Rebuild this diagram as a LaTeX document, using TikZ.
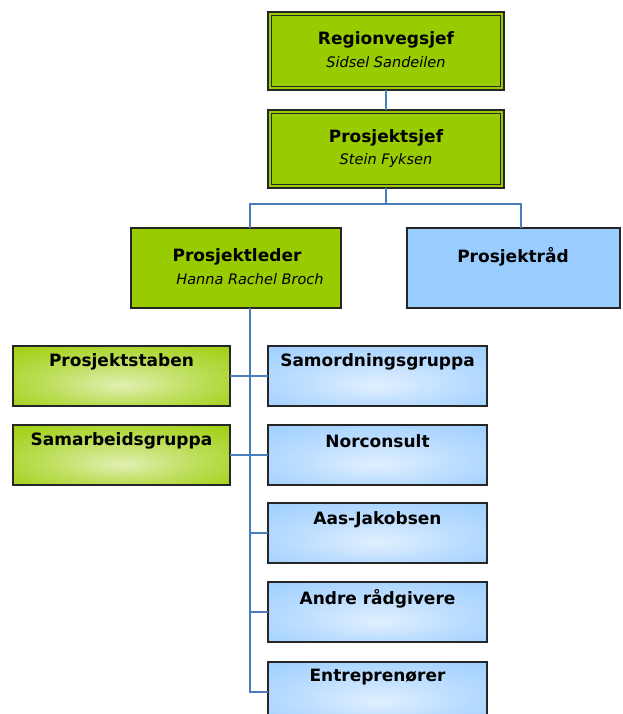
\documentclass[tikz,border=0pt]{standalone}
\usepackage{fontspec}
\setmainfont{DejaVu Sans}
\definecolor{gmain}{HTML}{99CC00}
\definecolor{bmain}{HTML}{99CCFF}
\definecolor{linec}{HTML}{4A7EBB}
\colorlet{gmid}{gmain!65!white}
\colorlet{glight}{gmain!30!white}
\colorlet{bmid}{bmain!65!white}
\colorlet{blight}{bmain!30!white}
\pgfdeclareradialshading{greenglow}{\pgfpoint{0bp}{-8bp}}{color(0bp)=(glight); color(18bp)=(gmid); color(40bp)=(gmain); color(50bp)=(gmain)}
\pgfdeclareradialshading{blueglow}{\pgfpoint{0bp}{-8bp}}{color(0bp)=(blight); color(18bp)=(bmid); color(40bp)=(bmain); color(50bp)=(bmain)}
\tikzset{
  boxbase/.style={rectangle, draw=black!85, line width=1.5pt, inner sep=0pt, outer sep=0pt},
  topbox/.style={boxbase, fill=gmain, line width=2.5pt},
  flatgreen/.style={boxbase, fill=gmain},
  flatblue/.style={boxbase, fill=bmain},
  greenbox/.style={boxbase, shading=greenglow},
  bluebox/.style={boxbase, shading=blueglow},
  innerline/.style={draw=black!85, line width=1.2pt},
  title/.style={font=\bfseries\fontsize{17}{20}\selectfont, inner sep=0pt},
  person/.style={font=\itshape\fontsize{14.5}{17}\selectfont, inner sep=0pt},
  conn/.style={draw=linec, line width=1.5pt}
}
\begin{document}
\begin{tikzpicture}[x=1pt,y=-1pt]
\useasboundingbox (0,0) rectangle (622,714);
\clip (0,0) rectangle (622,714);
% top boxes
\node[topbox, minimum width=236pt, minimum height=78pt] (rv) at (386,51) {};
\draw[innerline] ([xshift=3.5pt,yshift=-3.5pt]rv.north west) rectangle ([xshift=-3.5pt,yshift=3.5pt]rv.south east);
\node[title] (rvt) at (386,40) {Regionvegsjef};
\node[person] (rvn) at (386,62) {Sidsel Sandeilen};

\node[topbox, minimum width=236pt, minimum height=78pt] (ps) at (386,149) {};
\draw[innerline] ([xshift=3.5pt,yshift=-3.5pt]ps.north west) rectangle ([xshift=-3.5pt,yshift=3.5pt]ps.south east);
\node[title] (pst) at (386,138) {Prosjektsjef};
\node[person] (psn) at (386,160) {Stein Fyksen};

\node[flatgreen, minimum width=210pt, minimum height=80pt] (pl) at (236,268) {};
\node[title] (plt) at (237,257) {Prosjektleder};
\node[person] (pln) at (250,279) {Hanna Rachel Broch};

\node[flatblue, minimum width=213pt, minimum height=80pt] (pr) at (513.5,268) {};
\node[title] (prt) at (513,257) {Prosjektråd};

% left green boxes
\node[greenbox, minimum width=217pt, minimum height=60pt] (stab) at (121.5,376) {};
\node[title] (stabt) at (121.5,362) {Prosjektstaben};
\node[greenbox, minimum width=217pt, minimum height=60pt] (sam) at (121.5,455) {};
\node[title] (samt) at (121.5,441) {Samarbeidsgruppa};

% right blue boxes
\node[bluebox, minimum width=219pt, minimum height=60pt] (so) at (377.5,376) {};
\node[title] (sot) at (377.5,362) {Samordningsgruppa};
\node[bluebox, minimum width=219pt, minimum height=60pt] (nc) at (377.5,455) {};
\node[title] (nct) at (377.5,441) {Norconsult};
\node[bluebox, minimum width=219pt, minimum height=60pt] (aj) at (377.5,533) {};
\node[title] (ajt) at (377.5,520) {Aas-Jakobsen};
\node[bluebox, minimum width=219pt, minimum height=60pt] (ar) at (377.5,612) {};
\node[title] (art) at (377.5,599) {Andre rådgivere};
\node[bluebox, minimum width=219pt, minimum height=60pt] (en) at (377.5,692) {};
\node[title] (ent) at (377.5,677) {Entreprenører};

% connectors
\draw[conn] (rv.south) -- (ps.south |- ps.north);
\draw[conn] (ps.south) -- ++(0,16) -| ([xshift=14pt]pl.north);
\draw[conn] (ps.south) -- ++(0,16) -| ([xshift=7.5pt]pr.north);
\coordinate (spine) at ([xshift=14pt]pl.south);
\draw[conn] (spine) -- (spine |- en.west) -- (en.west);
\draw[conn] (stab.east) -- (so.west);
\draw[conn] (sam.east) -- (nc.west);
\draw[conn] (spine |- aj.west) -- (aj.west);
\draw[conn] (spine |- ar.west) -- (ar.west);
\end{tikzpicture}
\end{document}
